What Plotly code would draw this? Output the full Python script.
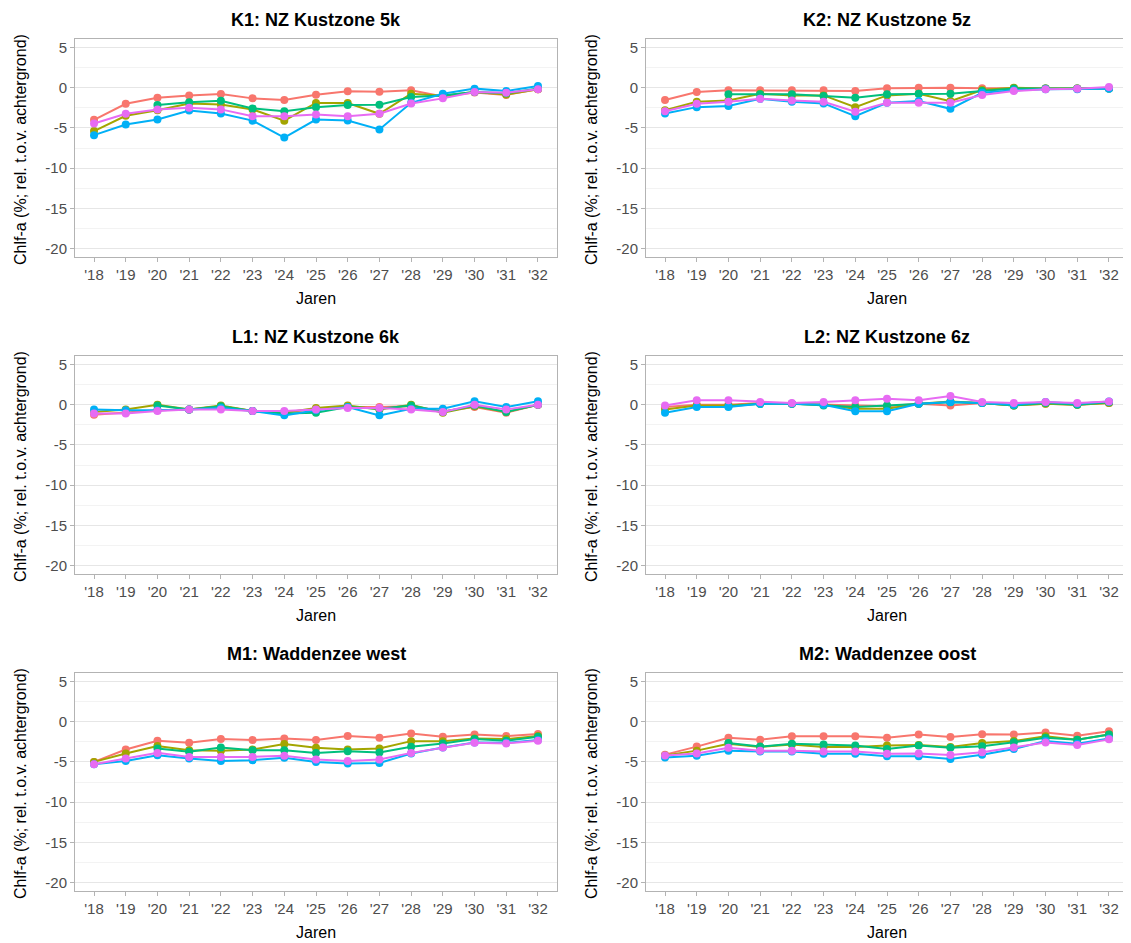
import plotly.graph_objects as go

years = ["'18", "'19", "'20", "'21", "'22", "'23", "'24", "'25", "'26", "'27", "'28", "'29", "'30", "'31", "'32"]
series_colors = ["#F8766D", "#A3A500", "#00BF7D", "#00B0F6", "#E76BF3"]
panel_titles = ["K1: NZ Kustzone 5k", "K2: NZ Kustzone 5z", "L1: NZ Kustzone 6k",
                "L2: NZ Kustzone 6z", "M1: Waddenzee west", "M2: Waddenzee oost"]

N = None
k1_red = [-4.0, -2.0, -1.25, -0.96, -0.79, -1.33, -1.54, -0.88, -0.46, -0.5, -0.33, -1.1, -0.6, -0.9, -0.2]
k1_olive = [-5.4, -3.5, -2.8, -1.96, -2.1, -2.7, -4.1, -1.9, -1.9, -3.25, -0.75, -1.0, -0.55, -0.85, -0.2]
k1_green = [N, N, -2.17, -1.8, -1.63, -2.58, -2.92, -2.42, -2.17, -2.13, -1.17, -0.96, -0.54, -0.7, -0.1]
k1_blue = [-5.9, -4.58, -3.96, -2.83, -3.2, -4.1, -6.2, -3.96, -4.08, -5.2, -1.88, -0.75, -0.12, -0.42, 0.2]
k1_pink = [-4.46, -3.25, -2.7, -2.5, -2.7, -3.54, -3.54, -3.33, -3.54, -3.25, -1.96, -1.33, -0.54, -0.63, -0.21]

k2_red = [-1.54, -0.54, -0.33, -0.33, -0.33, -0.33, -0.42, -0.08, 0.0, 0.0, -0.08, -0.08, -0.1, -0.1, -0.1]
k2_olive = [-2.8, -1.75, -1.58, -0.75, -0.96, -0.96, -2.42, -0.96, -0.75, -1.67, -0.29, 0.0, -0.1, -0.1, -0.1]
k2_green = [N, N, -0.83, -0.83, -0.83, -1.04, -1.25, -0.83, -0.75, -0.75, -0.42, -0.1, -0.1, -0.1, -0.1]
k2_blue = [-3.2, -2.42, -2.29, -1.38, -1.75, -1.96, -3.54, -1.88, -1.67, -2.63, -0.63, -0.33, -0.21, -0.21, -0.12]
k2_pink = [-2.92, -2.0, -1.75, -1.38, -1.58, -1.75, -3.0, -1.88, -1.88, -1.88, -0.92, -0.42, -0.21, -0.12, 0.08]

l1_red = [-1.25, -1.0, -0.7, -0.6, -0.2, -0.8, -0.9, -0.6, -0.3, -0.3, -0.2, -0.83, -0.3, -1.0, 0.0]
l1_olive = [-0.9, -0.6, 0.0, -0.6, -0.1, -0.8, -1.0, -0.4, -0.1, -0.6, 0.0, -1.0, -0.2, -0.9, 0.0]
l1_green = [N, N, -0.1, -0.6, -0.2, -0.8, -1.1, -1.0, -0.3, -0.5, -0.1, -0.9, -0.1, -0.9, 0.0]
l1_blue = [-0.6, -0.7, -0.7, -0.6, -0.4, -0.8, -1.33, -0.7, -0.3, -1.33, -0.5, -0.5, 0.42, -0.3, 0.42]
l1_pink = [-1.1, -1.1, -0.8, -0.6, -0.6, -0.8, -0.8, -0.6, -0.4, -0.4, -0.6, -0.9, 0.0, -0.6, 0.0]

l2_red = [-0.3, 0.0, 0.0, 0.2, 0.1, 0.0, -0.1, -0.2, 0.1, -0.1, 0.2, -0.1, 0.1, 0.0, 0.2]
l2_olive = [-0.6, -0.1, -0.1, 0.1, 0.1, 0.0, -0.5, -0.5, 0.1, 0.4, 0.2, -0.1, 0.1, 0.0, 0.2]
l2_green = [N, N, -0.2, 0.1, 0.1, -0.1, -0.3, -0.1, 0.1, 0.3, 0.2, -0.1, 0.2, 0.0, 0.3]
l2_blue = [-1.0, -0.3, -0.3, 0.1, 0.1, 0.0, -0.83, -0.83, 0.1, 0.33, 0.2, 0.0, 0.33, 0.1, 0.4]
l2_pink = [-0.1, 0.54, 0.54, 0.33, 0.2, 0.33, 0.54, 0.75, 0.54, 1.08, 0.33, 0.2, 0.33, 0.2, 0.4]

m1_red = [-5.0, -3.46, -2.38, -2.63, -2.17, -2.29, -2.08, -2.29, -1.79, -2.0, -1.46, -1.88, -1.58, -1.79, -1.54]
m1_olive = [-5.0, -3.96, -3.04, -3.54, -3.63, -3.46, -2.79, -3.25, -3.46, -3.33, -2.42, -2.42, -2.08, -2.17, -1.79]
m1_green = [N, N, -3.33, -3.75, -3.21, -3.54, -3.54, -3.88, -3.67, -3.83, -3.13, -2.71, -2.17, -2.38, -1.88]
m1_blue = [-5.29, -4.88, -4.17, -4.58, -4.88, -4.79, -4.5, -5.0, -5.21, -5.13, -3.96, -3.21, -2.58, -2.63, -2.29]
m1_pink = [-5.29, -4.58, -3.88, -4.38, -4.38, -4.38, -4.25, -4.71, -4.88, -4.71, -3.88, -3.21, -2.63, -2.71, -2.38]

m2_red = [-4.1, -3.1, -2.0, -2.25, -1.8, -1.8, -1.8, -2.0, -1.6, -1.9, -1.55, -1.6, -1.35, -1.75, -1.2]
m2_olive = [-4.2, -3.6, -2.75, -3.15, -2.85, -3.15, -3.15, -2.95, -2.9, -3.15, -2.65, -2.4, -1.8, -2.25, -1.6]
m2_green = [N, N, -2.65, -3.1, -2.75, -2.85, -2.95, -3.4, -2.95, -3.25, -3.05, -2.55, -2.0, -2.25, -1.6]
m2_blue = [-4.45, -4.25, -3.6, -3.7, -3.7, -4.0, -4.0, -4.3, -4.3, -4.65, -4.1, -3.4, -2.4, -2.75, -2.1]
m2_pink = [-4.2, -3.95, -3.25, -3.6, -3.6, -3.7, -3.7, -4.0, -3.95, -4.15, -3.8, -3.2, -2.6, -2.9, -2.2]

panels = [
    [k1_red, k1_olive, k1_green, k1_blue, k1_pink],
    [k2_red, k2_olive, k2_green, k2_blue, k2_pink],
    [l1_red, l1_olive, l1_green, l1_blue, l1_pink],
    [l2_red, l2_olive, l2_green, l2_blue, l2_pink],
    [m1_red, m1_olive, m1_green, m1_blue, m1_pink],
    [m2_red, m2_olive, m2_green, m2_blue, m2_pink],
]

OFF = 8  # page body margin
W, H = 1131 - OFF, 943 - OFF
col_x = [(75, 557), (646, 1128)]
row_y = [(39, 257), (356, 574), (673, 891)]

def px(v):
    return (v - OFF) / W

def py(v):
    return 1 - (v - OFF) / H

fig = go.Figure()
layout = dict(width=W, height=H, margin=dict(l=0, r=0, t=0, b=0),
              paper_bgcolor="white", plot_bgcolor="white", showlegend=False,
              font=dict(family="Liberation Sans, Arial, sans-serif"))
annotations = []

for i, series in enumerate(panels):
    r, c = divmod(i, 2)
    x0, x1 = col_x[c]
    y0, y1 = row_y[r]
    ax = "" if i == 0 else str(i + 1)
    for s, col in zip(series, series_colors):
        fig.add_trace(go.Scatter(x=years, y=s, mode="lines+markers",
                                 line=dict(color=col, width=2),
                                 marker=dict(color=col, size=8),
                                 connectgaps=False,
                                 xaxis="x" + ax, yaxis="y" + ax))
    layout["xaxis" + ax] = dict(
        domain=[px(x0), px(x1)], anchor="y" + ax, type="category",
        range=[-0.6, 14.6], showgrid=False, zeroline=False,
        showline=True, linecolor="#b3b3b3", linewidth=1, mirror=True,
        ticks="outside", ticklen=4, tickcolor="#b3b3b3",
        tickfont=dict(size=15, color="#4d4d4d"))
    layout["yaxis" + ax] = dict(
        domain=[py(y1), py(y0)], anchor="x" + ax,
        range=[-21.05, 6.05], tickvals=[-20, -15, -10, -5, 0, 5],
        ticktext=["-20", "-15", "-10", "-5", "0", "5"],
        showgrid=True, gridcolor="#e6e6e6", gridwidth=1, zeroline=False,
        minor=dict(tickvals=[-17.5, -12.5, -7.5, -2.5, 2.5], showgrid=True,
                   gridcolor="#f3f3f3", gridwidth=1, ticks=""),
        showline=True, linecolor="#b3b3b3", linewidth=1, mirror=True,
        ticks="outside", ticklen=4, tickcolor="#b3b3b3",
        tickfont=dict(size=15, color="#4d4d4d"))
    annotations.append(dict(text="<b>" + panel_titles[i] + "</b>", x=px((x0 + x1) / 2),
                            y=py(20 + 317 * r), xref="paper", yref="paper",
                            showarrow=False, xanchor="center", yanchor="middle",
                            font=dict(size=18, color="black")))
    annotations.append(dict(text="Jaren", x=px((x0 + x1) / 2), y=py(298 + 317 * r),
                            xref="paper", yref="paper", showarrow=False,
                            xanchor="center", yanchor="middle",
                            font=dict(size=16, color="black")))
    annotations.append(dict(text="Chlf-a (%; rel. t.o.v. achtergrond)",
                            x=px(x0 - 55), y=py((y0 + y1) / 2 + 2),
                            xref="paper", yref="paper", showarrow=False, textangle=-90,
                            xanchor="center", yanchor="middle",
                            font=dict(size=16, color="black")))

layout["annotations"] = annotations
fig.update_layout(**layout)
fig.write_html("out.html")
